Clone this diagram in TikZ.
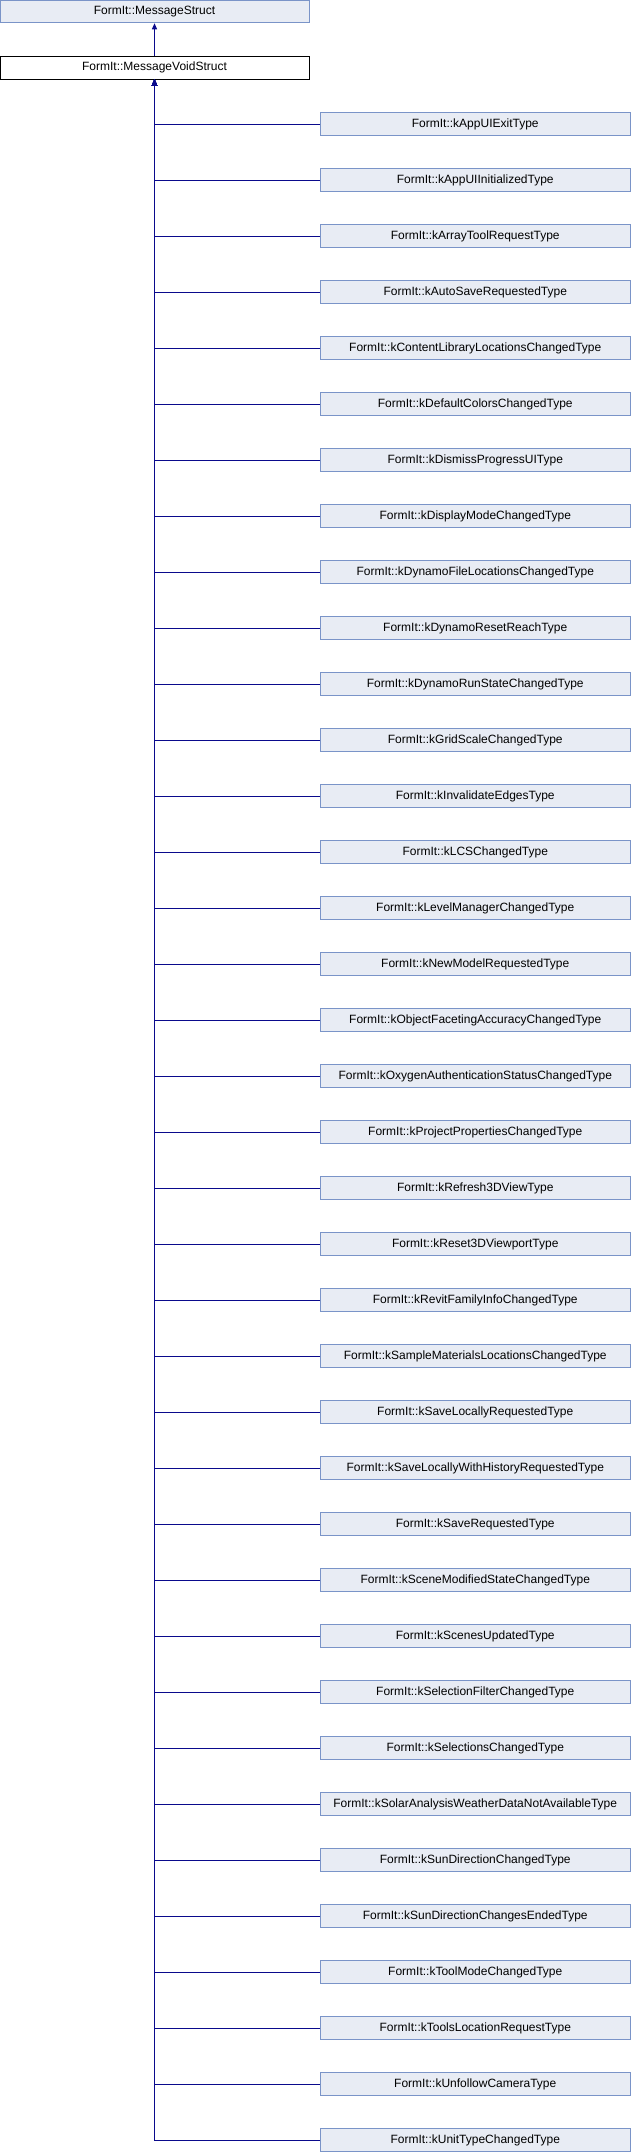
\documentclass[tikz,border=0pt]{standalone}
\usepackage{fontspec}
\setmainfont{Liberation Sans}
\usetikzlibrary{arrows.meta}
\definecolor{boxfill}{RGB}{232,236,244}
\definecolor{boxline}{RGB}{122,148,200}
\definecolor{edgeblue}{RGB}{10,10,140}
\tikzset{
  classbox/.style={draw=boxline,fill=boxfill,line width=1pt,minimum width=309pt,minimum height=22.5pt,inner sep=0pt,font=\fontsize{12}{14}\selectfont},
  thisbox/.style={classbox,draw=black,fill=white},
  inherit/.style={draw=edgeblue,line width=1pt,-{Triangle[length=6pt,width=5pt]}}
}
\begin{document}
\begin{tikzpicture}[x=1pt,y=-1pt]
			\useasboundingbox (0,0) rectangle (630,2152);
			% Draw base classes
			\node[classbox] (base) at (154.5,11.5) {FormIt::MessageStruct};
			\node[thisbox] (voidstruct) at (154.5,67.75) {FormIt::MessageVoidStruct};
			\draw[inherit] (voidstruct) -- (base);
			% Draw derived types
			\foreach \i/\name in {1/kAppUIExitType,2/kAppUIInitializedType,3/kArrayToolRequestType,4/kAutoSaveRequestedType,5/kContentLibraryLocationsChangedType,6/kDefaultColorsChangedType,7/kDismissProgressUIType,8/kDisplayModeChangedType,9/kDynamoFileLocationsChangedType,10/kDynamoResetReachType,11/kDynamoRunStateChangedType,12/kGridScaleChangedType,13/kInvalidateEdgesType,14/kLCSChangedType,15/kLevelManagerChangedType,16/kNewModelRequestedType,17/kObjectFacetingAccuracyChangedType,18/kOxygenAuthenticationStatusChangedType,19/kProjectPropertiesChangedType,20/kRefresh3DViewType,21/kReset3DViewportType,22/kRevitFamilyInfoChangedType,23/kSampleMaterialsLocationsChangedType,24/kSaveLocallyRequestedType,25/kSaveLocallyWithHistoryRequestedType,26/kSaveRequestedType,27/kSceneModifiedStateChangedType,28/kScenesUpdatedType,29/kSelectionFilterChangedType,30/kSelectionsChangedType,31/kSolarAnalysisWeatherDataNotAvailableType,32/kSunDirectionChangedType,33/kSunDirectionChangesEndedType,34/kToolModeChangedType,35/kToolsLocationRequestType,36/kUnfollowCameraType,37/kUnitTypeChangedType}{
				\node[classbox,minimum width=309.5pt] (t\i) at (475.25,{124+56*(\i-1)}) {FormIt::\name};
				\draw[inherit] (t\i.west) -| (voidstruct.south);
			}
		\end{tikzpicture}
\end{document}
